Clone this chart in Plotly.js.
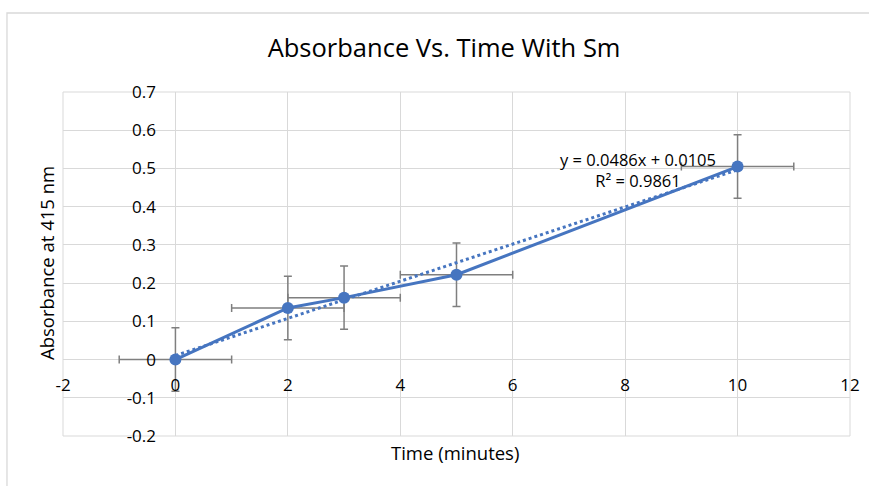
<!DOCTYPE html>
<html>
<head>
<meta charset="utf-8">
<script src="https://cdn.plot.ly/plotly-3.0.1.min.js"></script>
<style>
html,body{margin:0;padding:0;background:#fff;}
#chart{width:869px;height:486px;}
</style>
</head>
<body>
<div id="chart"></div>
<script>
// Data
const timeMin = [0, 2, 3, 5, 10];
const absorbance = [0, 0.135, 0.162, 0.222, 0.505];
const xErr = [1, 1, 1, 1, 1];
const yErr = [0.083, 0.083, 0.083, 0.083, 0.083];
const trendSlope = 0.0486;
const trendIntercept = 0.0105;
const trendX = [0, 10];
const trendR2 = 0.9861;
const xTicks = [-2, 0, 2, 4, 6, 8, 10, 12];
const xTickText = ['-2', '0', '2', '4', '6', '8', '10', '12'];
const yTicks = [-0.2, -0.1, 0, 0.1, 0.2, 0.3, 0.4, 0.5, 0.6, 0.7];
const yTickText = ['-0.2', '-0.1', '0', '0.1', '0.2', '0.3', '0.4', '0.5', '0.6', '0.7'];

const xRange = [-2, 12];
const yRange = [-0.2, 0.7];

const blue = '#4675c0';
const grey = '#7f7f7f';
const gridCol = '#d9d9d9';
const font = '"Open Sans", "Liberation Sans", sans-serif';

const trendY = trendX.map(x => trendSlope * x + trendIntercept);

const traces = [
  {
    x: timeMin, y: absorbance, type: 'scatter', mode: 'lines+markers',
    line: {color: blue, width: 3},
    marker: {color: blue, size: 12},
    error_x: {type: 'data', array: xErr, visible: true, color: grey, thickness: 1.5, width: 4},
    error_y: {type: 'data', array: yErr, visible: true, color: grey, thickness: 1.5, width: 4},
    hoverinfo: 'x+y', showlegend: false
  },
  {
    x: trendX, y: trendY, type: 'scatter', mode: 'lines',
    line: {color: blue, width: 3, dash: 'dot'},
    hoverinfo: 'skip', showlegend: false
  }
];

const yAxisPos = (0 - xRange[0]) / (xRange[1] - xRange[0]);
const xAxisPos = (0 - yRange[0]) / (yRange[1] - yRange[0]);

const layout = {
  width: 869, height: 486,
  margin: {l: 63, r: 19, t: 92, b: 50},
  paper_bgcolor: '#ffffff', plot_bgcolor: '#ffffff',
  font: {family: font, color: '#000000', size: 17},
  title: {
    text: 'Absorbance Vs. Time With Sm',
    font: {family: font, size: 25.5, color: '#000000'},
    xref: 'container', x: 0.511, xanchor: 'center',
    yref: 'container', y: 0.901, yanchor: 'middle'
  },
  xaxis: {
    range: xRange, tickvals: xTicks, ticktext: xTickText,
    anchor: 'free', position: xAxisPos,
    showgrid: true, gridcolor: gridCol, gridwidth: 1,
    zeroline: false, showline: false,
    ticks: 'outside', ticklen: 10, tickcolor: 'rgba(0,0,0,0)',
    tickfont: {family: font, size: 17, color: '#000'}
  },
  yaxis: {
    range: yRange, tickvals: yTicks, ticktext: yTickText,
    anchor: 'free', position: yAxisPos,
    showgrid: true, gridcolor: gridCol, gridwidth: 1,
    zeroline: false, showline: false,
    ticks: 'outside', ticklen: 16, tickcolor: 'rgba(0,0,0,0)',
    tickfont: {family: font, size: 17, color: '#000'}
  },
  shapes: [
    {type: 'rect', xref: 'paper', yref: 'paper', x0: 0, x1: 1, y0: 0, y1: 1,
     line: {color: gridCol, width: 1}, layer: 'below'},
    {type: 'rect', xref: 'paper', yref: 'paper', x0: -0.0712, x1: 1.2, y0: -0.6, y1: 1.2297,
     line: {color: '#d9d9d9', width: 1.3}, layer: 'below'}
  ],
  annotations: [
    {text: 'y = ' + trendSlope + 'x + ' + trendIntercept + '<br>R² = ' + trendR2,
     xref: 'x', yref: 'y', x: 8.22, y: 0.496, xanchor: 'center', yanchor: 'middle',
     align: 'center', showarrow: false, font: {family: font, size: 16.5, color: '#000'}},
    {text: 'Time (minutes)', xref: 'paper', yref: 'paper', x: 0.498, y: -0.049,
     xanchor: 'center', yanchor: 'middle', showarrow: false,
     font: {family: font, size: 18.5, color: '#000'}},
    {text: 'Absorbance at 415 nm', xref: 'paper', yref: 'paper', x: -0.0203, y: 0.503,
     xanchor: 'center', yanchor: 'middle', textangle: -90, showarrow: false,
     font: {family: font, size: 18.5, color: '#000'}}
  ]
};

Plotly.newPlot('chart', traces, layout, {staticPlot: true, displayModeBar: false});
</script>
</body>
</html>
